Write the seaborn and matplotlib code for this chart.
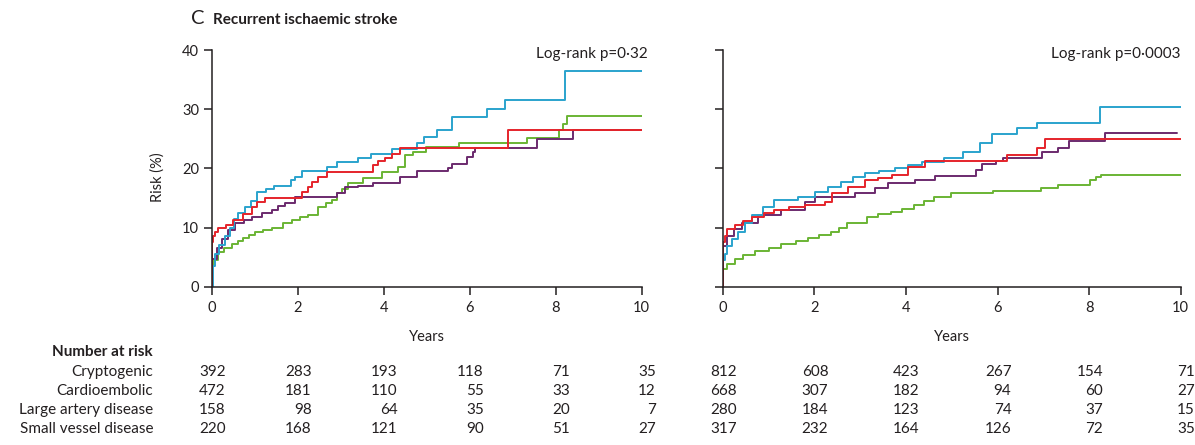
import numpy as np
import pandas as pd
import matplotlib
matplotlib.use("Agg")
import matplotlib.pyplot as plt
import matplotlib.transforms as mtransforms
import seaborn as sns

# ---------------- data ----------------
groups = ["Cryptogenic", "Cardioembolic", "Large artery disease", "Small vessel disease"]
colors = {"Cryptogenic": "#2aa3cd", "Cardioembolic": "#e5242b",
          "Large artery disease": "#6ab434", "Small vessel disease": "#6b2a6e"}

# Left panel (Log-rank p=0.32)
L_crypto_t = [0, 0.02, 0.08, 0.18, 0.31, 0.42, 0.52, 0.61, 0.77, 0.91, 1.06, 1.26, 1.45, 1.84, 1.94, 2.10,
              2.68, 2.92, 3.41, 3.70, 4.19, 4.78, 4.93, 5.23, 5.58, 6.40, 6.82, 8.22, 10]
L_crypto_r = [0, 3.5, 5.5, 7.0, 8.5, 10.0, 11.5, 12.5, 13.5, 14.5, 16.0, 16.5, 17.0, 18.0, 18.5, 19.5,
              20.3, 21.0, 21.8, 22.5, 23.3, 24.3, 25.3, 26.4, 28.6, 30.1, 31.6, 36.4, 36.4]
L_cardio_t = [0, 0.01, 0.03, 0.08, 0.15, 0.33, 0.49, 0.72, 0.93, 1.06, 1.24, 2.10, 2.24, 2.33, 2.48, 2.68,
              3.75, 3.87, 4.03, 4.19, 4.39, 6.88, 10]
L_cardio_r = [0, 7.5, 8.5, 9.2, 10.0, 10.5, 11.3, 12.3, 13.5, 14.3, 15.0, 16.0, 16.8, 17.7, 18.5, 19.3,
              20.5, 21.2, 21.8, 22.5, 23.4, 26.4, 26.4]
L_large_t = [0, 0.01, 0.06, 0.15, 0.28, 0.47, 0.60, 0.72, 0.86, 1.01, 1.20, 1.40, 1.65, 1.86, 2.05, 2.24,
             2.48, 2.65, 2.79, 2.92, 3.02, 3.17, 3.51, 3.95, 4.34, 4.49, 4.68, 4.98, 5.76, 7.33, 8.08,
             8.16, 8.26, 10]
L_large_r = [0, 3.5, 4.5, 5.8, 6.5, 7.2, 7.7, 8.2, 8.7, 9.2, 9.6, 10.0, 10.7, 11.3, 11.7, 12.2,
             13.5, 14.1, 14.7, 15.8, 16.5, 17.5, 18.3, 19.3, 20.2, 22.2, 22.7, 23.6, 24.2, 25.1, 26.4,
             27.5, 28.8, 28.8]
L_small_t = [0, 0.01, 0.13, 0.23, 0.38, 0.54, 0.75, 0.93, 1.16, 1.40, 1.55, 1.70, 1.94, 2.92, 3.10, 3.41,
             3.75, 4.10, 4.39, 4.78, 5.50, 5.58, 5.93, 6.08, 6.12, 7.56, 8.41, 10]
L_small_r = [0, 4.7, 6.5, 8.0, 9.5, 10.8, 11.3, 11.8, 12.5, 13.0, 13.6, 14.2, 15.2, 15.8, 16.8, 17.1,
             17.5, 17.5, 18.5, 19.5, 20.0, 20.8, 21.9, 22.7, 23.4, 24.9, 26.4, 26.4]

# Right panel (Log-rank p=0.0003)
R_crypto_t = [0, 0.01, 0.05, 0.10, 0.20, 0.33, 0.49, 0.64, 0.89, 1.13, 1.64, 2.01, 2.30, 2.59, 2.84, 3.11,
              3.42, 3.77, 4.05, 4.35, 4.84, 5.25, 5.62, 5.88, 6.43, 6.87, 8.24, 10]
R_crypto_r = [0, 4.5, 5.5, 6.8, 8.0, 9.2, 10.8, 12.2, 13.5, 14.7, 15.2, 16.0, 16.8, 17.7, 18.5, 19.2,
              19.6, 20.0, 20.5, 21.0, 21.8, 22.7, 24.2, 25.8, 26.8, 27.7, 30.4, 30.4]
R_cardio_t = [0, 0.01, 0.05, 0.10, 0.27, 0.45, 0.64, 0.90, 1.13, 1.45, 1.79, 2.23, 2.38, 2.74, 3.10, 3.40,
              3.70, 4.04, 4.42, 6.20, 6.87, 7.03, 10]
R_cardio_r = [0, 7.5, 8.5, 9.7, 10.5, 11.1, 11.7, 12.4, 13.0, 13.4, 13.8, 14.3, 15.8, 16.8, 18.0, 18.4,
              18.8, 20.2, 21.2, 22.2, 23.5, 25.0, 25.0]
R_large_t = [0, 0.01, 0.10, 0.27, 0.45, 0.70, 1.00, 1.28, 1.60, 1.86, 2.10, 2.37, 2.55, 2.72, 3.15, 3.40,
             3.67, 3.92, 4.17, 4.40, 4.61, 4.98, 5.90, 6.94, 7.33, 8.01, 8.15, 8.25, 10]
R_large_r = [0, 3.0, 3.8, 4.7, 5.3, 6.0, 6.6, 7.2, 7.8, 8.3, 8.7, 9.2, 10.0, 10.8, 11.8, 12.3,
             12.7, 13.2, 13.8, 14.5, 15.2, 15.8, 16.2, 16.7, 17.2, 18.0, 18.5, 18.9, 18.9]
R_small_t = [0, 0.01, 0.10, 0.25, 0.42, 0.77, 1.28, 1.79, 2.01, 2.89, 3.33, 3.62, 4.20, 4.64, 5.54, 5.67,
             5.96, 6.11, 6.97, 7.33, 7.57, 8.35, 9.91]
R_small_r = [0, 6.8, 8.5, 9.7, 10.8, 12.2, 13.0, 14.3, 15.2, 15.8, 16.7, 17.5, 18.0, 18.7, 19.7, 20.7,
             21.3, 21.8, 22.7, 23.5, 24.7, 25.9, 25.9]

years_ticks = [0, 2, 4, 6, 8, 10]
risk_ticks = [0, 10, 20, 30, 40]

L_at_risk = {"Cryptogenic": [392, 283, 193, 118, 71, 35],
             "Cardioembolic": [472, 181, 110, 55, 33, 12],
             "Large artery disease": [158, 98, 64, 35, 20, 7],
             "Small vessel disease": [220, 168, 121, 90, 51, 27]}
R_at_risk = {"Cryptogenic": [812, 608, 423, 267, 154, 71],
             "Cardioembolic": [668, 307, 182, 94, 60, 27],
             "Large artery disease": [280, 184, 123, 74, 37, 15],
             "Small vessel disease": [317, 232, 164, 126, 72, 35]}

left_pvalue = "Log-rank p=0·32"
right_pvalue = "Log-rank p=0·0003"


def make_df(series):
    rows = []
    for g, (t, r) in series.items():
        for ti, ri in zip(t, r):
            rows.append({"time": ti, "risk": ri, "group": g})
    return pd.DataFrame(rows)


left_df = make_df({"Large artery disease": (L_large_t, L_large_r),
                   "Small vessel disease": (L_small_t, L_small_r),
                   "Cryptogenic": (L_crypto_t, L_crypto_r),
                   "Cardioembolic": (L_cardio_t, L_cardio_r)})
right_df = make_df({"Large artery disease": (R_large_t, R_large_r),
                    "Small vessel disease": (R_small_t, R_small_r),
                    "Cryptogenic": (R_crypto_t, R_crypto_r),
                    "Cardioembolic": (R_cardio_t, R_cardio_r)})

# ---------------- style ----------------
sns.set_theme(style="ticks")
plt.rcParams["font.family"] = ["Lato", "DejaVu Sans"]
ink = "#231f20"
plt.rcParams["text.color"] = ink
plt.rcParams["axes.labelcolor"] = ink
plt.rcParams["xtick.color"] = ink
plt.rcParams["ytick.color"] = ink

W, H = 1195, 445
fig = plt.figure(figsize=(W / 100, H / 100), dpi=100)
fig.patch.set_facecolor("white")

axL = fig.add_axes([211.7 / W, (H - 286.7) / H, 430 / W, (286.7 - 50) / H])
axR = fig.add_axes([722.7 / W, (H - 286.7) / H, 458 / W, (286.7 - 50) / H])

for ax, df in [(axL, left_df), (axR, right_df)]:
    sns.lineplot(data=df, x="time", y="risk", hue="group", palette=colors,
                 hue_order=["Large artery disease", "Small vessel disease", "Cryptogenic", "Cardioembolic"],
                 estimator=None, sort=False, drawstyle="steps-post", linewidth=1.4,
                 legend=False, ax=ax)
    ax.set_xlim(0, 10)
    ax.set_ylim(0, 40)
    ax.set_xticks(years_ticks)
    ax.set_yticks(risk_ticks)
    ax.set_xticklabels([str(v) for v in years_ticks])
    for s in ["top", "right"]:
        ax.spines[s].set_visible(False)
    for s in ["left", "bottom"]:
        ax.spines[s].set_linewidth(1.1)
        ax.spines[s].set_color(ink)
    ax.tick_params(axis="both", direction="out", length=6, width=1.1, labelsize=10.5, colors=ink)
    ax.tick_params(axis="x", pad=4)
    ax.tick_params(axis="y", pad=3)
    ax.set_xlabel("Years", fontsize=10.5, labelpad=11)
    ax.set_ylabel("")
    ax.set_facecolor("white")

axR.set_yticklabels([])

pv_off = mtransforms.ScaledTranslation(6 / 100, 0, fig.dpi_scale_trans)
axL.text(1.0, 0.985, left_pvalue, transform=axL.transAxes + pv_off, ha="right", va="center", fontsize=11)
axR.text(1.0, 0.985, right_pvalue, transform=axR.transAxes, ha="right", va="center", fontsize=11)

fig.text(158 / W, 1 - 177 / H, "Risk (%)", rotation=90, ha="center", va="center", fontsize=10.5)

fig.text(191 / W, 1 - 19 / H, "C", ha="left", va="center", fontsize=14.5)
fig.text(213 / W, 1 - 20 / H, "Recurrent ischaemic stroke", ha="left", va="center",
         fontsize=11, fontweight="bold")

# ---------------- number at risk table ----------------
row_y = [372, 391, 410, 429]
fig.text(153 / W, 1 - 352 / H, "Number at risk", ha="right", va="center", fontsize=11, fontweight="bold")
offset = mtransforms.ScaledTranslation(14 / 100, 0, fig.dpi_scale_trans)
for gi, g in enumerate(groups):
    yf = 1 - row_y[gi] / H
    fig.text(153 / W, yf, g, ha="right", va="center", fontsize=11)
    for ax, table in [(axL, L_at_risk), (axR, R_at_risk)]:
        tr = mtransforms.blended_transform_factory(ax.transData, fig.transFigure) + offset
        for xv, n in zip(years_ticks, table[g]):
            ax.text(xv, yf, str(n), transform=tr, ha="right", va="center", fontsize=11, clip_on=False)

fig.savefig("out.png", dpi=100, facecolor="white")
